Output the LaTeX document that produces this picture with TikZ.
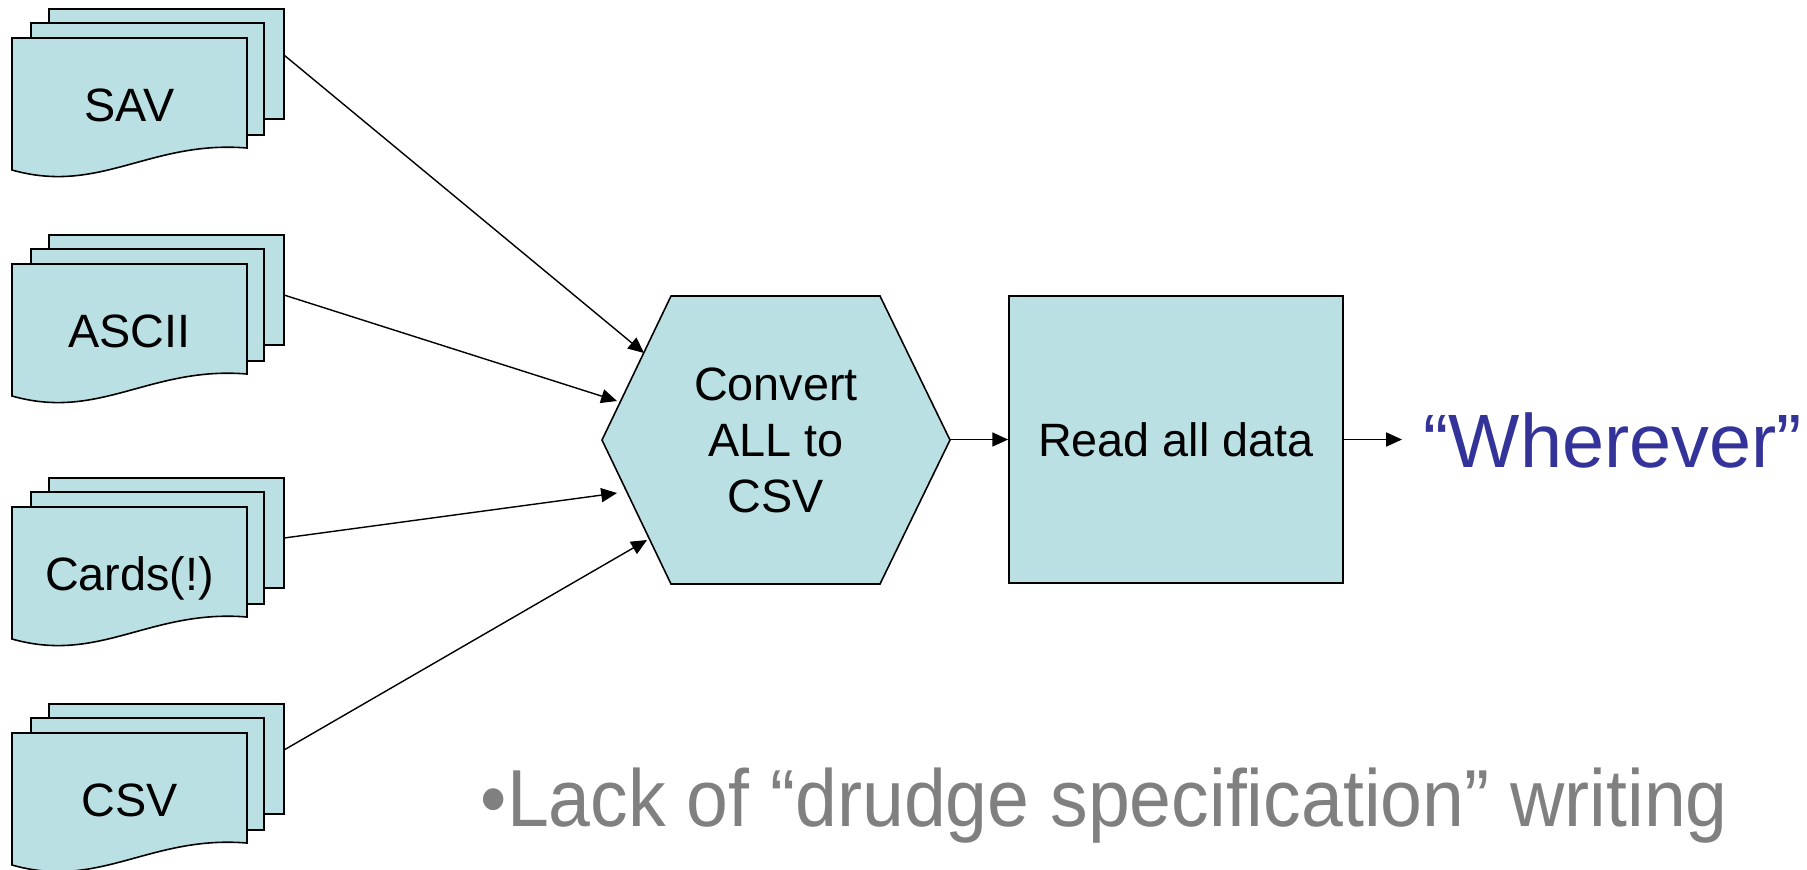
\documentclass[tikz,border=0pt]{standalone}
\usepackage{fontspec}
\setmainfont{Liberation Sans}
\usetikzlibrary{arrows.meta}
\definecolor{shapefill}{RGB}{187,224,227}
\definecolor{destblue}{RGB}{51,51,153}
\definecolor{notegray}{RGB}{128,128,128}
\tikzset{
  sheet/.style={draw=black, fill=shapefill, line width=0.45pt, line join=miter},
  flow/.style={draw=black, line width=0.4pt, -{Triangle[length=4.5pt,width=4pt]}},
  lbl/.style={font=\fontsize{13.3}{15.9}\selectfont, inner sep=0pt},
}
% a stack of three document sheets; #1,#2 = top-left corner of the front sheet
\newcommand{\docstack}[4]{%
  \begin{scope}[shift={(#1,#2)}]
    \draw[sheet] (37,-29) rectangle (272,81);
    \draw[sheet] (19,-15) rectangle (252,97);
    \draw[sheet] (0,0) -- (235,0) -- (235,110)
      .. controls (138,102) and (88,157) .. (0,132) -- cycle;
    \node[lbl, anchor=base] (#3) at (117.5,83.5) {#4};
  \end{scope}}
\begin{document}
\begin{tikzpicture}[x=0.01cm, y=-0.01cm]
\useasboundingbox (0,0) rectangle (1807,869);

% input files
\docstack{12}{38}{sav}{SAV}
\docstack{12}{264}{ascii}{ASCII}
\docstack{12}{507}{cards}{Cards(!)}
\docstack{12}{733}{csv}{CSV}
\coordinate (savout)   at (284,55);
\coordinate (asciiout) at (284,295);
\coordinate (cardsout) at (284,538);
\coordinate (csvout)   at (284,750);

% conversion step
\draw[sheet] (602,440) -- (671,296) -- (880,296) -- (950,440)
  -- (880,584) -- (671,584) -- cycle;
\node[lbl, align=center] (conv) at (776,440) {Convert\\ALL to\\CSV};
\coordinate (convW1) at (644,353);
\coordinate (convW2) at (617,401);
\coordinate (convW3) at (617,493);
\coordinate (convW4) at (647,540);
\coordinate (convE)  at (950,439.5);

% reading step
\node[sheet, lbl, minimum width=3.34cm, minimum height=2.87cm] (read)
  at (1176,439.5) {Read all data};

% destination
\node[font=\fontsize{21.5}{26}\selectfont, text=destblue, anchor=base west,
  inner sep=0pt] (dest) at (1423,467) {“Wherever”};
\coordinate (destin) at (1402,439.5);

% connectors
\draw[flow] (savout)   -- (convW1);
\draw[flow] (asciiout) -- (convW2);
\draw[flow] (cardsout) -- (convW3);
\draw[flow] (csvout)   -- (convW4);
\draw[flow] (convE) -- (read.west);
\draw[flow] (read.east) -- (destin);

% remark
\node[font=\fontsize{23}{27}\selectfont, text=notegray, anchor=base west,
  inner sep=0pt] (note) at (480,826)
  {\scalebox{0.93}[1]{•Lack of “drudge specification” writing}};
\end{tikzpicture}
\end{document}
